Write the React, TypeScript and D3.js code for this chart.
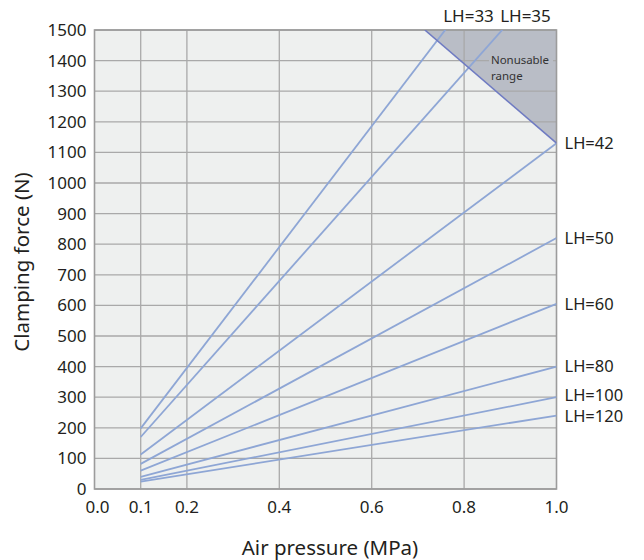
import React from 'react';
import * as d3 from 'd3';

// chart data
const lhLabels = ["LH=33", "LH=35", "LH=42", "LH=50", "LH=60", "LH=80", "LH=100", "LH=120"];
const pressures = [0.1, 1.0];
const forceAtLow = [198, 170, 113, 82, 60, 40, 30, 24];
const forceAtHigh = [1976, 1700, 1130, 820, 605, 400, 300, 240];
const xTicks = [0.0, 0.1, 0.2, 0.4, 0.6, 0.8, 1.0];
const xGrid = [0.1, 0.2, 0.4, 0.6, 0.8];
const yTicks = d3.range(0, 1501, 100);
const limitPressure = [0.715, 1.0];
const limitForce = [1500, 1130];

const W = 644;
const H = 560;
const margin = { top: 30, left: 94.5, right: 87.5, bottom: 71 };
const font = "'Noto Sans', sans-serif";

// small nudges so close labels don't collide
const labelNudge: Record<string, number> = { "LH=100": -2, "LH=120": 1 };

const App: React.FC = () => {
  const x = d3.scaleLinear().domain([0, 1]).range([margin.left, W - margin.right]);
  const y = d3.scaleLinear().domain([0, 1500]).range([H - margin.bottom, margin.top]);

  const line = d3.line<[number, number]>().x(d => x(d[0])).y(d => y(d[1]));

  const limitPts: [number, number][] = limitPressure.map((p, i) => [p, limitForce[i]]);
  const area: [number, number][] = [...limitPts, [1.0, 1500]];

  return (
    <svg width={W} height={H} style={{ display: 'block', position: 'absolute', left: 0, top: 0 }}>
      <defs>
        <clipPath id="plot">
          <rect x={x(0)} y={y(1500)} width={x(1) - x(0)} height={y(0) - y(1500)} />
        </clipPath>
      </defs>
      <rect x={x(0)} y={y(1500)} width={x(1) - x(0)} height={y(0) - y(1500)} fill="#eef0ef" />
      <path d={line(area) + 'Z'} fill="#b9bdc6" />
      {yTicks.map(t => (
        <line key={'gy' + t} x1={x(0)} x2={x(1)} y1={y(t)} y2={y(t)} stroke="#a9a9a9" strokeWidth={1.3} />
      ))}
      {xGrid.map(t => (
        <line key={'gx' + t} x1={x(t)} x2={x(t)} y1={y(0)} y2={y(1500)} stroke="#a9a9a9" strokeWidth={1.3} />
      ))}
      <rect x={x(0)} y={y(1500)} width={x(1) - x(0)} height={y(0) - y(1500)} fill="none" stroke="#9c9c9c" strokeWidth={1.6} />
      <rect x={489} y={51} width={64} height={32} fill="#b9bdc6" />
      <text x={491} y={64} fontFamily={font} fontSize={11.5} fill="#333" textLength={58}>Nonusable</text>
      <text x={491} y={80} fontFamily={font} fontSize={11.5} fill="#333">range</text>
      <g clipPath="url(#plot)">
        {lhLabels.map((l, i) => (
          <path key={l} d={line(pressures.map((p, j) => [p, j === 0 ? forceAtLow[i] : forceAtHigh[i]]) as [number, number][]) || ''}
            fill="none" stroke="#8ea6d5" strokeWidth={1.8} />
        ))}
        <path d={line(limitPts) || ''} fill="none" stroke="#6f7bc2" strokeWidth={1.6} />
      </g>
      {lhLabels.map((l, i) => {
        const hi = forceAtHigh[i];
        if (hi > 1500) {
          const lo = forceAtLow[i];
          const p = 0.1 + (1500 - lo) / (hi - lo) * 0.9;
          return <text key={'l' + l} x={x(p) - 2} y={22} fontFamily={font} fontSize={17} fill="#231f20">{l}</text>;
        }
        return <text key={'l' + l} x={x(1) + 8} y={y(hi) + (labelNudge[l] || 0)} dy="0.35em" fontFamily={font} fontSize={16.5} fill="#231f20">{l}</text>;
      })}
      {yTicks.map(t => (
        <text key={'ty' + t} x={x(0) - 8} y={y(t)} dy="0.35em" textAnchor="end" fontFamily={font} fontSize={17} fill="#231f20">{t}</text>
      ))}
      {xTicks.map(t => (
        <text key={'tx' + t} x={x(t) + (t === 0 ? 3 : 0)} y={513} textAnchor="middle" fontFamily={font} fontSize={17} fill="#231f20">{d3.format('.1f')(t)}</text>
      ))}
      <text x={330} y={555} textAnchor="middle" fontFamily={font} fontSize={20.5} fill="#231f20">Air pressure (MPa)</text>
      <text transform={`translate(29,262) rotate(-90)`} textAnchor="middle" fontFamily={font} fontSize={20.5} fill="#231f20">Clamping force (N)</text>
    </svg>
  );
};

export default App;
